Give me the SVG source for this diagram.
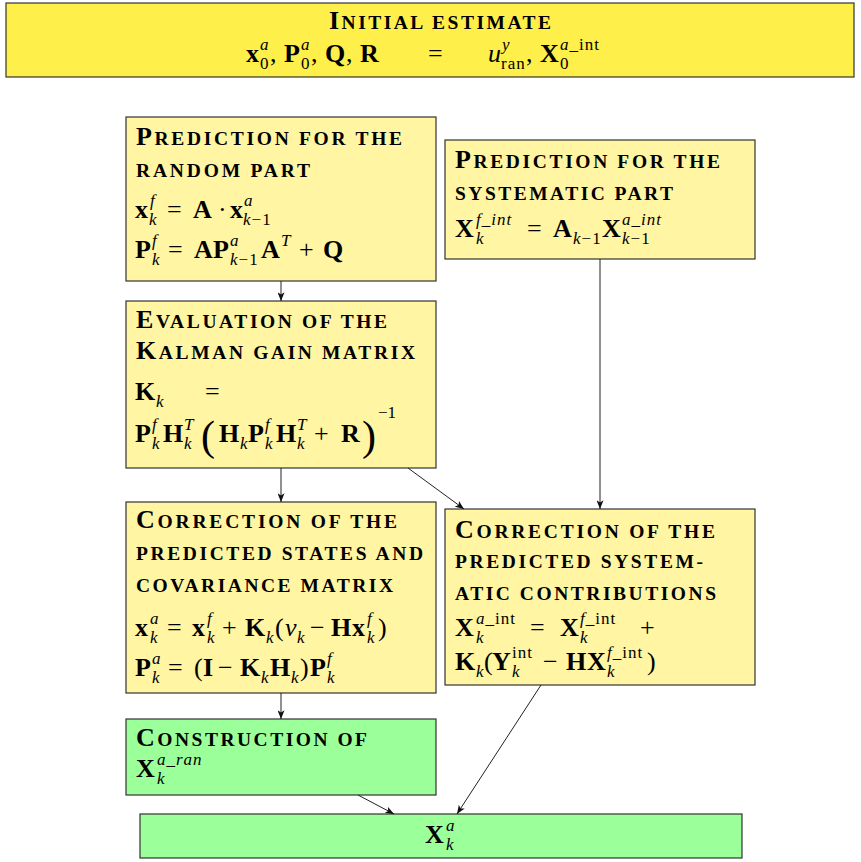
<svg xmlns="http://www.w3.org/2000/svg" width="861" height="862" viewBox="0 0 861 862">
<defs>
<marker id="ah" viewBox="0 0 10 8" refX="10" refY="4" markerWidth="9" markerHeight="7" markerUnits="userSpaceOnUse" orient="auto"><path d="M0,0 L10,4 L0,8 L2.5,4 z" fill="#111"/></marker>
</defs>
<style>
.box{stroke:#333;stroke-width:1.2}
.y1{fill:#FFEF4A}
.y2{fill:#FFF5A2}
.g{fill:#9BFF9A}
text{font-family:"Liberation Serif","Times New Roman",serif;fill:#000}
.h{font-size:19.5px;font-weight:bold}
.hc{font-size:26px}
.t{font-size:26px}
.s{font-size:17px;font-weight:normal}
.ls{letter-spacing:1px}
.b{font-weight:bold}
.i{font-style:italic}
.big{font-size:42px}
#connectors line{stroke:#222;stroke-width:1;marker-end:url(#ah)}
</style>
<rect width="861" height="862" fill="#fff"/>

<g id="initial">
<rect class="box y1" x="6" y="3" width="848" height="74"/>
<text class="h" x="329" y="29" textLength="222" lengthAdjust="spacing"><tspan class="hc">I</tspan>NITIAL ESTIMATE</text>
<text class="t"><tspan class="b" x="246" y="62">x</tspan><tspan class="s i" x="260" y="50">a</tspan><tspan class="s" x="260" y="69">0</tspan><tspan x="270" y="62">,</tspan><tspan class="b" x="284" y="62">P</tspan><tspan class="s i" x="301" y="50">a</tspan><tspan class="s" x="301" y="69">0</tspan><tspan x="311" y="62">,</tspan><tspan class="b" x="325" y="62">Q</tspan><tspan x="346" y="62">,</tspan><tspan class="b" x="360" y="62">R</tspan><tspan x="428" y="62">=</tspan><tspan class="i" x="488" y="62">u</tspan><tspan class="s i" x="502" y="50">y</tspan><tspan class="s ls" x="501" y="69">ran</tspan><tspan x="526" y="62">,</tspan><tspan class="b" x="540" y="62">X</tspan><tspan class="s ls" x="560" y="50"><tspan class="i">a</tspan>_int</tspan><tspan class="s" x="560" y="69">0</tspan></text>
</g>

<g id="pred-random">
<rect class="box y2" x="126" y="117" width="310" height="164"/>
<text class="h" x="136" y="145" textLength="266" lengthAdjust="spacing"><tspan class="hc">P</tspan>REDICTION FOR THE</text>
<text class="h" x="136" y="177" textLength="174" lengthAdjust="spacing">RANDOM PART</text>
<text class="t"><tspan class="b" x="135" y="218">x</tspan><tspan class="s i" x="150" y="206">f</tspan><tspan class="s i" x="149" y="225">k</tspan><tspan x="167" y="218">=</tspan><tspan class="b" x="193" y="218">A</tspan><tspan x="218" y="218">·</tspan><tspan class="b" x="230" y="218">x</tspan><tspan class="s i" x="244" y="206">a</tspan><tspan class="s ls" x="243" y="225"><tspan class="i">k</tspan>−1</tspan></text>
<text class="t"><tspan class="b" x="135" y="258">P</tspan><tspan class="s i" x="152" y="246">f</tspan><tspan class="s i" x="152" y="265">k</tspan><tspan x="168" y="258">=</tspan><tspan class="b" x="194" y="258">A</tspan><tspan class="b" x="213" y="258">P</tspan><tspan class="s i" x="230" y="246">a</tspan><tspan class="s ls" x="230" y="265"><tspan class="i">k</tspan>−1</tspan><tspan class="b" x="261" y="258">A</tspan><tspan class="s i" x="281" y="246">T</tspan><tspan x="299" y="258">+</tspan><tspan class="b" x="323" y="258">Q</tspan></text>
</g>

<g id="pred-systematic">
<rect class="box y2" x="445" y="140" width="310" height="119"/>
<text class="h" x="455" y="168" textLength="265" lengthAdjust="spacing"><tspan class="hc">P</tspan>REDICTION FOR THE</text>
<text class="h" x="455" y="200" textLength="218" lengthAdjust="spacing">SYSTEMATIC PART</text>
<text class="t"><tspan class="b" x="455" y="237">X</tspan><tspan class="s i ls" x="476" y="225">f_int</tspan><tspan class="s i" x="476" y="244">k</tspan><tspan x="527" y="237">=</tspan><tspan class="b" x="553" y="237">A</tspan><tspan class="s ls" x="573" y="244"><tspan class="i">k</tspan>−1</tspan><tspan class="b" x="602" y="237">X</tspan><tspan class="s i ls" x="622" y="225">a_int</tspan><tspan class="s ls" x="622" y="244"><tspan class="i">k</tspan>−1</tspan></text>
</g>

<g id="kalman-gain">
<rect class="box y2" x="126" y="301" width="310" height="167"/>
<text class="h" x="136" y="328" textLength="251" lengthAdjust="spacing"><tspan class="hc">E</tspan>VALUATION OF THE</text>
<text class="h" x="136" y="359" textLength="279" lengthAdjust="spacing"><tspan class="hc">K</tspan>ALMAN GAIN MATRIX</text>
<text class="t"><tspan class="b" x="135" y="400">K</tspan><tspan class="s i" x="156" y="407">k</tspan><tspan x="205" y="400">=</tspan></text>
<text class="t"><tspan class="b" x="135" y="442">P</tspan><tspan class="s i" x="152" y="430">f</tspan><tspan class="s i" x="152" y="449">k</tspan><tspan class="b" x="163" y="442">H</tspan><tspan class="s i" x="184" y="430">T</tspan><tspan class="s i" x="184" y="449">k</tspan><tspan class="big" x="201" y="450">(</tspan><tspan class="b" x="219" y="442">H</tspan><tspan class="s i" x="240" y="449">k</tspan><tspan class="b" x="248" y="442">P</tspan><tspan class="s i" x="265" y="430">f</tspan><tspan class="s i" x="265" y="449">k</tspan><tspan class="b" x="276" y="442">H</tspan><tspan class="s i" x="297" y="430">T</tspan><tspan class="s i" x="297" y="449">k</tspan><tspan x="314" y="442">+</tspan><tspan class="b" x="341" y="442">R</tspan><tspan class="big" x="362" y="450">)</tspan><tspan class="s" x="378" y="418">−1</tspan></text>
</g>

<g id="corr-states">
<rect class="box y2" x="126" y="502" width="310" height="191"/>
<text class="h" x="136" y="528" textLength="261" lengthAdjust="spacing"><tspan class="hc">C</tspan>ORRECTION OF THE</text>
<text class="h" x="136" y="560" textLength="287" lengthAdjust="spacing">PREDICTED STATES AND</text>
<text class="h" x="136" y="592" textLength="257" lengthAdjust="spacing">COVARIANCE MATRIX</text>
<text class="t"><tspan class="b" x="135" y="636">x</tspan><tspan class="s i" x="150" y="624">a</tspan><tspan class="s i" x="150" y="643">k</tspan><tspan x="167" y="636">=</tspan><tspan class="b" x="192" y="636">x</tspan><tspan class="s i" x="207" y="624">f</tspan><tspan class="s i" x="207" y="643">k</tspan><tspan x="222" y="636">+</tspan><tspan class="b" x="245" y="636">K</tspan><tspan class="s i" x="266" y="643">k</tspan><tspan x="275" y="636">(</tspan><tspan class="i" x="285" y="636">v</tspan><tspan class="s i" x="297" y="643">k</tspan><tspan x="310" y="636">−</tspan><tspan class="b" x="331" y="636">H</tspan><tspan class="b" x="352" y="636">x</tspan><tspan class="s i" x="367" y="624">f</tspan><tspan class="s i" x="367" y="643">k</tspan><tspan x="378" y="636">)</tspan></text>
<text class="t"><tspan class="b" x="135" y="676">P</tspan><tspan class="s i" x="152" y="664">a</tspan><tspan class="s i" x="152" y="683">k</tspan><tspan x="168" y="676">=</tspan><tspan x="194" y="676">(</tspan><tspan class="b" x="203" y="676">I</tspan><tspan x="218" y="676">−</tspan><tspan class="b" x="240" y="676">K</tspan><tspan class="s i" x="261" y="683">k</tspan><tspan class="b" x="270" y="676">H</tspan><tspan class="s i" x="291" y="683">k</tspan><tspan x="300" y="676">)</tspan><tspan class="b" x="310" y="676">P</tspan><tspan class="s i" x="327" y="664">f</tspan><tspan class="s i" x="327" y="683">k</tspan></text>
</g>

<g id="corr-systematic">
<rect class="box y2" x="445" y="509" width="310" height="176"/>
<text class="h" x="455" y="538" textLength="260" lengthAdjust="spacing"><tspan class="hc">C</tspan>ORRECTION OF THE</text>
<text class="h" x="455" y="568" textLength="248" lengthAdjust="spacing">PREDICTED SYSTEM-</text>
<text class="h" x="455" y="600" textLength="261" lengthAdjust="spacing">ATIC CONTRIBUTIONS</text>
<text class="t"><tspan class="b" x="455" y="636">X</tspan><tspan class="s ls" x="476" y="624"><tspan class="i">a</tspan>_int</tspan><tspan class="s i" x="476" y="643">k</tspan><tspan x="530" y="636">=</tspan><tspan class="b" x="560" y="636">X</tspan><tspan class="s ls" x="580" y="624"><tspan class="i">f</tspan>_int</tspan><tspan class="s i" x="580" y="643">k</tspan><tspan x="640" y="636">+</tspan></text>
<text class="t"><tspan class="b" x="455" y="670">K</tspan><tspan class="s i" x="476" y="677">k</tspan><tspan x="484" y="670">(</tspan><tspan class="b" x="492" y="670">Y</tspan><tspan class="s ls" x="512" y="658">int</tspan><tspan class="s i" x="512" y="677">k</tspan><tspan x="543" y="670">−</tspan><tspan class="b" x="566" y="670">H</tspan><tspan class="b" x="587" y="670">X</tspan><tspan class="s ls" x="607" y="658"><tspan class="i">f</tspan>_int</tspan><tspan class="s i" x="607" y="677">k</tspan><tspan x="647" y="670">)</tspan></text>
</g>

<g id="construction">
<rect class="box g" x="126" y="719" width="310" height="76"/>
<text class="h" x="136" y="746" textLength="231" lengthAdjust="spacing"><tspan class="hc">C</tspan>ONSTRUCTION OF</text>
<text class="t"><tspan class="b" x="136" y="777">X</tspan><tspan class="s i ls" x="157" y="765">a_ran</tspan><tspan class="s i" x="157" y="784">k</tspan></text>
</g>

<g id="final">
<rect class="box g" x="140" y="814" width="602" height="44"/>
<text class="t"><tspan class="b" x="425" y="843">X</tspan><tspan class="s i" x="446" y="831">a</tspan><tspan class="s i" x="446" y="850">k</tspan></text>
</g>

<g id="connectors">
<line x1="281" y1="281" x2="281" y2="301"/>
<line x1="281" y1="468" x2="281" y2="502"/>
<line x1="408" y1="468" x2="464" y2="509"/>
<line x1="600" y1="259" x2="600" y2="509"/>
<line x1="281" y1="693" x2="281" y2="719"/>
<line x1="541" y1="685" x2="457" y2="814"/>
<line x1="358" y1="795" x2="394" y2="814"/>
</g>
</svg>
